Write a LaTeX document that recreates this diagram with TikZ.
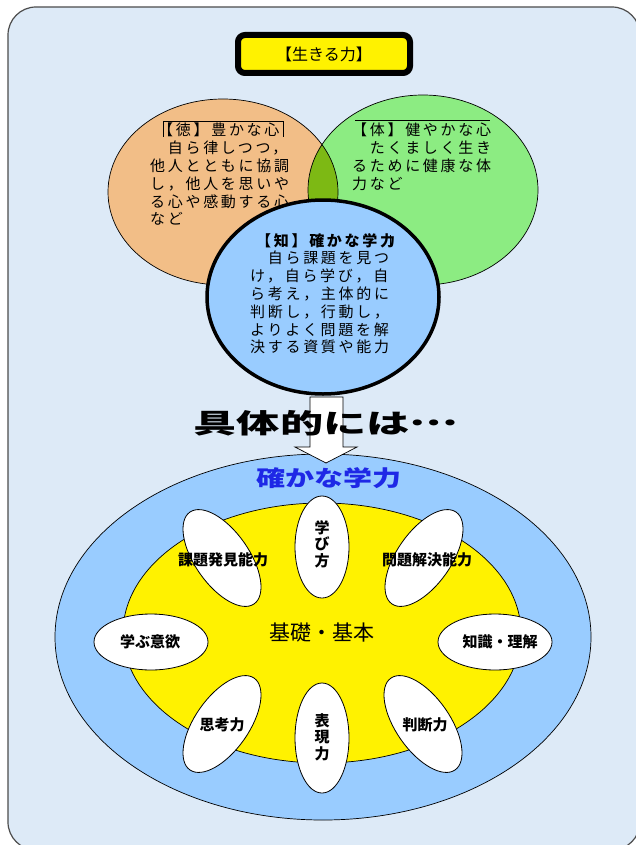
\documentclass[tikz,border=0pt]{standalone}
\usepackage{fontspec}
\setmainfont{Noto Sans CJK JP}
\newfontfamily\bodyfont{Noto Sans CJK JP}[LetterSpace=18]
\usetikzlibrary{shapes.geometric}

\definecolor{bgblue}{RGB}{221,234,247}
\definecolor{peach}{RGB}{242,190,135}
\definecolor{leafgreen}{RGB}{140,236,130}
\definecolor{olivegreen}{RGB}{125,185,20}
\definecolor{skyblue}{RGB}{153,204,255}
\definecolor{titleblue}{RGB}{30,40,230}

\begin{document}
\begin{tikzpicture}[x=1pt, y=-1pt,
    body/.style={font=\bodyfont\fontsize{15}{17.8}\selectfont, align=left, anchor=north west, inner sep=0pt},
    petal/.style={ellipse, draw, fill=white, line width=0.8pt, inner sep=0pt},
    petaltext/.style={font=\bfseries\fontsize{15}{16.5}\selectfont, align=center, inner sep=0pt}
  ]
    \useasboundingbox (0,0) rectangle (635,845);
    \draw [fill=bgblue, draw=black!70, line width=1.2pt, rounded corners=28pt] (8,7) rectangle (640,850);

    % three circles
    \fill [peach] (223,192) ellipse [x radius=115, y radius=93];
    \fill [leafgreen] (423,190) ellipse [x radius=115, y radius=95];
    \begin{scope}
      \clip (223,192) ellipse [x radius=115, y radius=93];
      \fill [olivegreen] (423,190) ellipse [x radius=115, y radius=95];
    \end{scope}
    \draw [line width=0.7pt] (223,192) ellipse [x radius=115, y radius=93];
    \draw [line width=0.7pt] (423,190) ellipse [x radius=115, y radius=95];

    \node [body] (toku) at (150,123) {\hspace*{8pt}【徳】豊かな心\\　自ら律しつつ，\\他人とともに協調\\し，他人を思いや\\る心や感動する心\\など};
    \draw [line width=0.6pt] (163,137) -- (163,121) -- (283,121) -- (283,137);

    \node [body] (tai) at (352,123) {【体】健やかな心\\　たくましく生き\\るために健康な体\\力など};
    \draw [line width=0.6pt] (355,120) -- (490,120);

    \draw [fill=skyblue, line width=3.5pt] (323,297) ellipse [x radius=116, y radius=97];
    \node [body] (chi) at (250,233) {\hspace*{6pt}{\bfseries 【知】確かな学力}\\　自ら課題を見つ\\け，自ら学び，自\\ら考え，主体的に\\判断し，行動し，\\よりよく問題を解\\決する資質や能力};
    \draw [line width=0.8pt] (390,235) -- (390,246);

    % lower part
    \draw [fill=skyblue, line width=0.7pt] (323,637) ellipse [x radius=268, y radius=183];
    \draw [fill=white, line width=0.7pt] (310,397) -- (343,397) -- (343,447) -- (357,447) -- (326,463) -- (295,447) -- (310,447) -- cycle;
    \node [font=\bfseries\fontsize{27}{27}\selectfont, xscale=1.6] (gutai) at (326,423) {具体的には\raisebox{8pt}{…}};
    \node [font=\bfseries\fontsize{22}{22}\selectfont, xscale=1.32, text=titleblue] (tashika) at (329,478) {確かな学力};

    \draw [fill=yellow, line width=0.7pt] (322,633) ellipse [x radius=199, y radius=130];
    \node [font=\fontsize{21}{21}\selectfont] (kiso) at (322,633) {基礎・基本};

    \node [petal, rotate=-55, minimum width=112pt, minimum height=54pt] (kadai) at (222,558) {};
    \node [petal, minimum width=54pt, minimum height=102pt] (manabi) at (322,547) {};
    \node [petal, rotate=55, minimum width=112pt, minimum height=54pt] (mondai) at (424,558) {};
    \node [petal, minimum width=114pt, minimum height=56pt] (iyoku) at (151,642) {};
    \node [petal, minimum width=114pt, minimum height=56pt] (chishiki) at (495,642) {};
    \node [petal, rotate=55, minimum width=112pt, minimum height=54pt] (shikou) at (222,724) {};
    \node [petal, minimum width=54pt, minimum height=110pt] (hyougen) at (322,738) {};
    \node [petal, rotate=-55, minimum width=112pt, minimum height=54pt] (handan) at (423,724) {};

    \node [petaltext] (kadai-t) at (223,560) {課題発見能力};
    \node [petaltext] (manabi-t) at (322,544) {学\\び\\方};
    \node [petaltext] (mondai-t) at (427,560) {問題解決能力};
    \node [petaltext] (iyoku-t) at (150,642) {学ぶ意欲};
    \node [petaltext] (chishiki-t) at (500,642) {知識・理解};
    \node [petaltext] (shikou-t) at (222,725) {思考力};
    \node [petaltext] (hyougen-t) at (322,737) {表\\現\\力};
    \node [petaltext] (handan-t) at (425,725) {判断力};

    % title
    \node [draw, line width=6pt, fill=yellow, rounded corners=7pt, minimum width=172pt, minimum height=38pt, font=\fontsize{16}{16}\selectfont] (ikiru) at (324,54) {【生きる力】};
\end{tikzpicture}
\end{document}
